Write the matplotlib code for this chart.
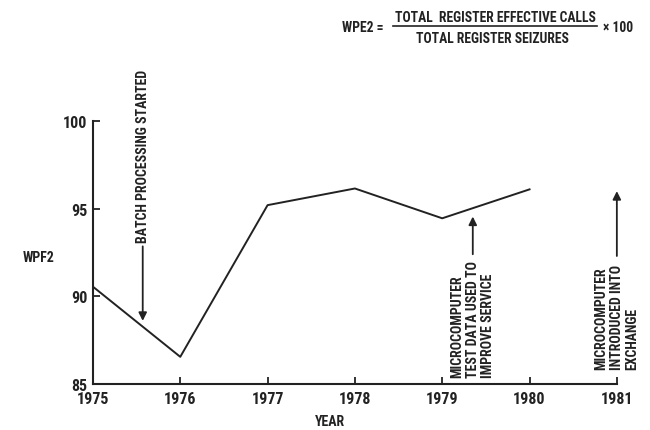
import numpy as np
import matplotlib
matplotlib.use("Agg")
import matplotlib.pyplot as plt

plt.rcParams['font.family'] = ['Roboto Condensed', 'DejaVu Sans']
plt.rcParams['font.weight'] = 'bold'
plt.rcParams['axes.labelweight'] = 'bold'

years = [1975, 1976, 1977, 1978, 1979, 1980]
wpe2 = [90.55, 86.55, 95.2, 96.15, 94.45, 96.1]

xticks = [1975, 1976, 1977, 1978, 1979, 1980, 1981]
yticks = [85, 90, 95, 100]

# events: (x, arrow tail, arrow tip, text base, label)
events = [
    (1975.57, 92.85, 88.6, 93.1, "BATCH PROCESSING STARTED"),
    (1979.35, 92.4, 94.55, 85.4, "MICROCOMPUTER\nTEST DATA USED TO\nIMPROVE SERVICE"),
    (1981.0, 92.3, 96.0, 85.85, "MICROCOMPUTER\nINTRODUCED INTO\nEXCHANGE"),
]

ink = '#222222'

fig = plt.figure(figsize=(6.5, 4.31), dpi=100)
ax = fig.add_axes([0.143, 0.1067, 0.806, 0.6103])

ax.plot(years, wpe2, color=ink, lw=1.4)

ax.set_xlim(1975, 1981)
ax.set_ylim(85, 100)
ax.set_xticks(xticks)
ax.set_yticks(yticks)
ax.spines['top'].set_visible(False)
ax.spines['right'].set_visible(False)
for s in ['left', 'bottom']:
    ax.spines[s].set_linewidth(1.5)
    ax.spines[s].set_color(ink)
ax.tick_params(direction='in', length=5, width=1.3, color=ink,
               labelsize=11.5, labelcolor=ink)
ax.tick_params(axis='x', pad=5)
ax.tick_params(axis='y', pad=4)
ax.set_xlabel("YEAR", fontsize=10, color=ink, va='center')
ax.xaxis.set_label_coords(0.452, -0.141)
ax.set_ylabel("WPF2", fontsize=10, color=ink, rotation=0, va='center', ha='center')
ax.yaxis.set_label_coords(-0.103, 0.483)

for x, tail, tip, base, label in events:
    ax.annotate('', xy=(x, tip), xytext=(x, tail),
                arrowprops=dict(arrowstyle='-|>', color=ink, lw=1.3,
                                mutation_scale=12, shrinkA=0, shrinkB=0),
                annotation_clip=False)
    ax.text(x, base, label, rotation=90, ha='center', va='bottom',
            multialignment='left', fontsize=10, color=ink,
            linespacing=1.15, clip_on=False)

# formula at the top
fig.text(383 / 650, 1 - 27.5 / 431, "WPE2 =", ha='right', va='center',
         fontsize=9.8, color=ink)
fig.text(495 / 650, 1 - 18 / 431, "TOTAL  REGISTER EFFECTIVE CALLS", ha='center',
         va='center', fontsize=9.8, color=ink)
fig.text(492 / 650, 1 - 39 / 431, "TOTAL REGISTER SEIZURES", ha='center',
         va='center', fontsize=9.8, color=ink)
fig.add_artist(plt.Line2D([393 / 650, 597 / 650], [1 - 27 / 431, 1 - 27 / 431],
                          color=ink, lw=1.2))
fig.text(603 / 650, 1 - 27.5 / 431, "\u00d7 100", ha='left', va='center',
         fontsize=9.8, color=ink)

fig.savefig("out.png", dpi=100)
